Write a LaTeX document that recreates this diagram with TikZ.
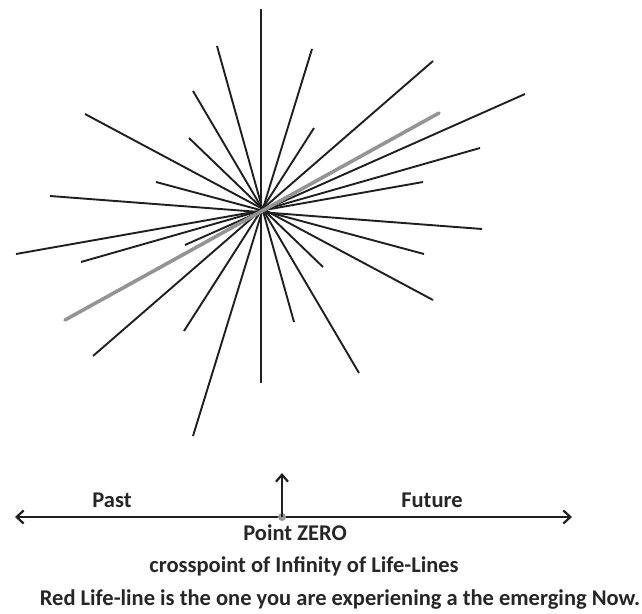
\documentclass[tikz,border=0pt]{standalone}
\usepackage{fontspec}
\setmainfont{Carlito}
\usetikzlibrary{arrows.meta, positioning}

\begin{document}
\begin{tikzpicture}[x=1pt, y=-1pt,
	lifeline/.style={draw=black!88, line width=1.9pt},
	nowline/.style={draw=black!42, line width=3.6pt, line cap=round},
	timeaxis/.style={draw=black!88, line width=2.2pt,
	                 {Straight Barb[length=7pt, width=13pt]}-{Straight Barb[length=7pt, width=13pt]}},
	uparr/.style={-{Straight Barb[length=7pt, width=12pt]}, draw=black!88, line width=2.2pt},
	lbl/.style={font=\bfseries\fontsize{22.5}{26}\selectfont, inner sep=0pt, text=black!85}
	]
\useasboundingbox (0,0) rectangle (642,613);

% the life-lines through the crosspoint
\coordinate (zero) at (261,211);
\foreach \ax/\ay/\bx/\by in {261/9/261/383, 217/46/294/322, 312/49/193/436,
	193/91/359/373, 85/114/433/300, 189/138/323/267, 314/128/184/331,
	433/61/93/356, 525/94/185/245, 480/148/81/262, 423/182/16/254,
	156/182/424/254, 50/196/482/229}
	\draw[lifeline] (\ax,\ay) -- (\bx,\by);
\draw[nowline] (439,113) -- (65,320);

% time axis
\coordinate (pastend) at (15,517);
\coordinate (futend) at (572,517);
\coordinate (nowtip) at (282,473);
\draw[timeaxis] (pastend) -- (futend);
\node[circle, fill=black!40, inner sep=0pt, minimum size=8pt] (now) at (282,517) {};
\draw[uparr] (now.center) -- (nowtip);

\node[lbl] (past) at (112,500) {Past};
\node[lbl] (future) at (432,500) {Future};
\node[lbl] (pz) at (295,533) {Point ZERO};
\node[lbl] (cross) at (304,566) {crosspoint of Infinity of Life-Lines};
\node[lbl] (red) at (340,600) {Red Life-line is the one you are experiening a the emerging Now.};
\end{tikzpicture}
\end{document}
